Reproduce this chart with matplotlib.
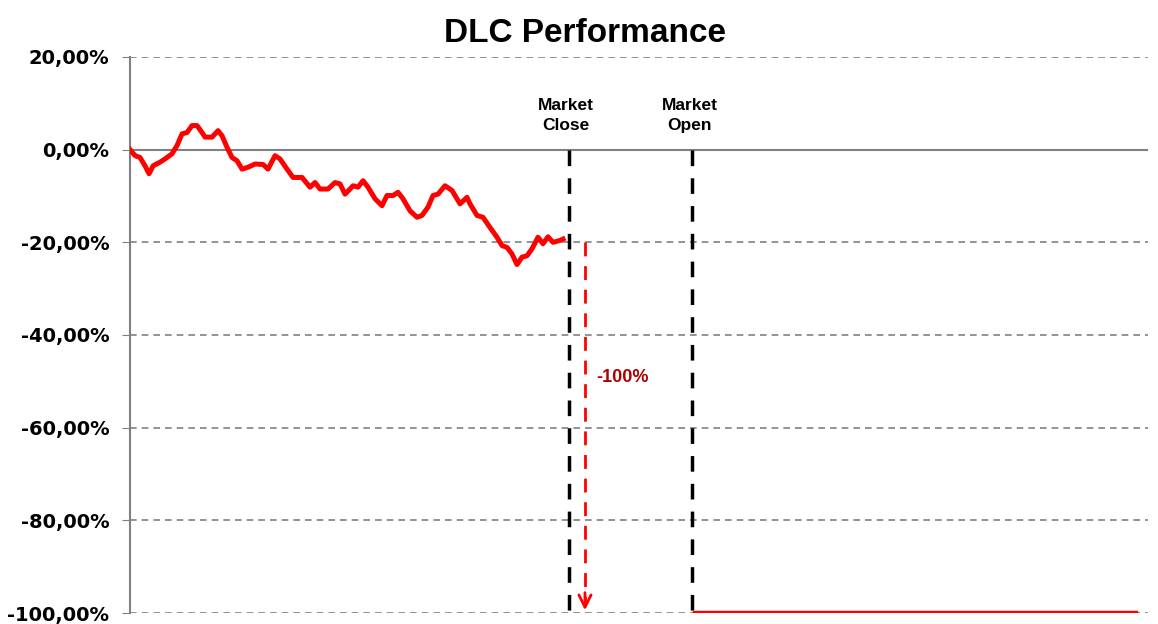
import matplotlib.pyplot as plt
import numpy as np
from matplotlib.ticker import FuncFormatter

# performance path before the close (time in arbitrary units, value in %)
t_perf = [0.0, 0.5, 1.0, 1.5, 1.9, 2.3, 3.0, 3.5, 4.2, 4.7, 5.2, 5.7, 6.2, 6.7, 7.2, 7.5,
          8.2, 8.8, 9.2, 9.7, 10.2, 10.7, 11.2, 11.8, 12.5, 13.3, 13.8, 14.5, 15.0, 15.7,
          16.3, 17.2, 18.0, 18.5, 19.0, 19.8, 20.5, 21.0, 21.5, 22.0, 22.3, 22.8, 23.3,
          23.8, 24.5, 25.2, 25.7, 26.3, 26.8, 27.3, 28.0, 28.7, 29.2, 29.8, 30.3, 30.8,
          31.5, 32.2, 33.0, 33.7, 34.0, 34.7, 35.3, 36.0, 36.7, 37.2, 37.7, 38.2, 38.7,
          39.2, 39.7, 40.2, 40.8, 41.3, 41.8, 42.3, 43.0, 43.3]
v_perf = [0.0, -1.3, -1.7, -3.5, -5.2, -3.5, -2.7, -2.0, -0.9, 0.9, 3.4, 3.7, 5.2, 5.2, 3.7, 2.7,
          2.7, 4.1, 3.0, 0.5, -1.7, -2.4, -4.2, -3.8, -3.1, -3.2, -4.2, -1.3, -2.0, -4.2,
          -6.0, -6.0, -8.1, -7.1, -8.5, -8.5, -7.1, -7.4, -9.6, -8.5, -7.8, -8.1, -6.7,
          -8.1, -10.6, -12.1, -9.9, -9.9, -9.2, -10.6, -13.2, -14.6, -14.2, -12.4, -9.9, -9.6,
          -7.8, -8.8, -11.7, -10.3, -11.7, -14.2, -14.6, -16.8, -18.9, -20.7, -21.1, -22.5, -24.8,
          -23.2, -22.9, -21.4, -18.9, -20.3, -18.8, -20.0, -19.6, -19.3]

# after the open
t_after = [56.5, 100.6]
v_after = [-100, -100]

market_close = 43.9
market_open = 56.2
drop_t = 45.5
drop_from, drop_to = -20, -100

fig = plt.figure(figsize=(11.58, 6.24), dpi=100)
ax = fig.add_axes([0.1123, 0.0176, 0.879, 0.8911])
plt.rcParams['font.family'] = ['Liberation Sans', 'DejaVu Sans']

ax.set_ylim(-100, 20)
ax.set_xlim(0, 101.8)
ax.set_yticks(np.arange(-100, 21, 20))
ax.yaxis.set_major_formatter(FuncFormatter(lambda v, p: ('%.2f%%' % v).replace('.', ',')))
for lab in ax.get_yticklabels():
    lab.set_fontweight('bold')
    lab.set_fontsize(14)
ax.tick_params(axis='y', length=6, color='#808080', pad=9)
ax.set_xticks([])
for s in ['top', 'right', 'bottom']:
    ax.spines[s].set_visible(False)
ax.spines['left'].set_color('#808080')
ax.spines['left'].set_linewidth(1.5)

for g in [20, -20, -40, -60, -80, -100]:
    ax.axhline(g, color='#808080', lw=1.2, ls=(0, (4, 3)), zorder=1)
ax.axhline(0, color='#808080', lw=1.5, zorder=1)

ax.plot(t_perf, v_perf, color='red', lw=3.6, zorder=3)
ax.plot(t_after, v_after, color='red', lw=3.2, zorder=3)

for t in [market_close, market_open]:
    ax.plot([t, t], [0, -100], color='black', lw=2.5, ls=(0, (4.5, 3.5)), zorder=2)
ax.text(market_close - 0.3, 7.4, 'Market\nClose', ha='center', va='center',
        fontsize=12.5, fontweight='bold', linespacing=1.45)
ax.text(market_open - 0.2, 7.4, 'Market\nOpen', ha='center', va='center',
        fontsize=12.5, fontweight='bold', linespacing=1.45)

ax.plot([drop_t, drop_t], [drop_from, drop_to + 1.5], color='red', lw=2, ls=(0, (5, 3.5)), zorder=3)
ax.annotate('', xy=(drop_t, drop_to), xytext=(drop_t, drop_to + 5),
            arrowprops=dict(arrowstyle='->', color='red', lw=2, mutation_scale=22))
ax.text(drop_t + 1.1, -49.2, '-100%', color='#b00000', fontsize=13, fontweight='bold',
        ha='left', va='center')

fig.suptitle('DLC Performance', fontsize=24, fontweight='bold', x=0.505, y=0.947, va='center')
fig.savefig('out.png', dpi=100)
